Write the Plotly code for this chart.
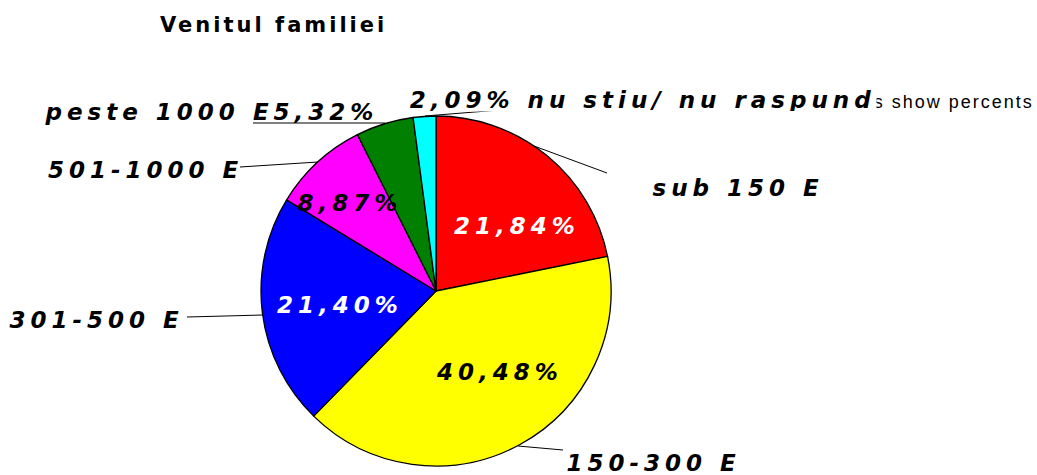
import json
import plotly.graph_objects as go

categories = ["sub 150 E", "150-300 E", "301-500 E", "501-1000 E", "peste 1000 E", "nu stiu/ nu raspund"]
values = [21.84, 40.48, 21.40, 8.87, 5.32, 2.09]
colors = ["#FF0000", "#FFFF00", "#0000FF", "#FF00FF", "#007F00", "#00FFFF"]
title_text = "Venitul familiei"
note_text = "Values show percents"

W, H = 1037, 475


def px(x, y):
    return x / W, 1 - y / H


def pct(v):
    return f"{v:.2f}".replace(".", ",") + "%"


fig = go.Figure()
fig.add_trace(go.Pie(
    labels=categories,
    values=values,
    sort=False,
    direction="clockwise",
    rotation=0,
    marker=dict(colors=colors, line=dict(color="black", width=1.3)),
    textinfo="none",
    hoverinfo="label+percent",
    showlegend=False,
    domain=dict(x=[0, 872 / W], y=[9 / H, 359 / H]),
))

FAM = "DejaVu Sans, Liberation Sans, Arial, sans-serif"
lab_font = dict(family=FAM, size=23, color="black", weight="bold", style="italic")

annotations = []
spacings = []


def ann(text, x, y, font=None, spacing=5, **kw):
    ax, ay = px(x, y)
    annotations.append(dict(text=text, x=ax, y=ay, xref="paper", yref="paper",
                            xanchor="center", yanchor="middle", showarrow=False,
                            font=font or lab_font, **kw))
    spacings.append(spacing)


# note (partly covered in the original)
ann(note_text, 926, 102, spacing=2,
    font=dict(family="Liberation Sans, Arial, sans-serif", size=18, color="black"))

# title
ann(title_text, 273, 25, spacing=3,
    font=dict(family=FAM, size=21, color="black", weight="bold"))

# outside category labels
ann(categories[0], 738, 188)
ann(categories[1], 654, 463)
ann(categories[2], 97, 320)
ann(categories[3], 146, 170)
ann(categories[4] + pct(values[4]), 211, 112)
ann(pct(values[5]) + " " + categories[5], 643, 100,
    bgcolor="white", borderpad=0, width=466, height=22)

# inside percent labels
inside_font_w = dict(lab_font, color="white")
ann(pct(values[0]), 517, 226, font=inside_font_w)
ann(pct(values[1]), 499, 372)
ann(pct(values[2]), 340, 305, font=inside_font_w)
ann(pct(values[3]), 350, 203)

# leader lines
lines = [
    ((534, 146), (607, 173)),
    ((518, 446), (563, 450)),
    ((187, 317), (263, 315)),
    ((240, 167), (318, 162)),
    ((253, 123), (385, 123)),
    ((425, 116), (512, 109)),
]
shapes = []
for (x0, y0), (x1, y1) in lines:
    a0, b0 = px(x0, y0)
    a1, b1 = px(x1, y1)
    shapes.append(dict(type="line", xref="paper", yref="paper", x0=a0, y0=b0, x1=a1, y1=b1,
                       line=dict(color="black", width=1), layer="above"))

fig.update_layout(
    width=W, height=H,
    margin=dict(l=0, r=0, t=0, b=0),
    paper_bgcolor="white",
    plot_bgcolor="white",
    annotations=annotations,
    shapes=shapes,
)

post_script = """
document.body.style.margin = '0';
document.body.style.overflow = 'hidden';
var gd = document.getElementById('{plot_id}');
var sp = %s;
gd.querySelectorAll('g.annotation').forEach(function (g) {
  var i = +g.getAttribute('data-index');
  var t = g.querySelector('text.annotation-text');
  if (t && sp[i] !== undefined) { t.style.letterSpacing = sp[i] + 'px'; }
});
""" % json.dumps(spacings)

fig.write_html("out.html", post_script=post_script, config={"displayModeBar": False})
